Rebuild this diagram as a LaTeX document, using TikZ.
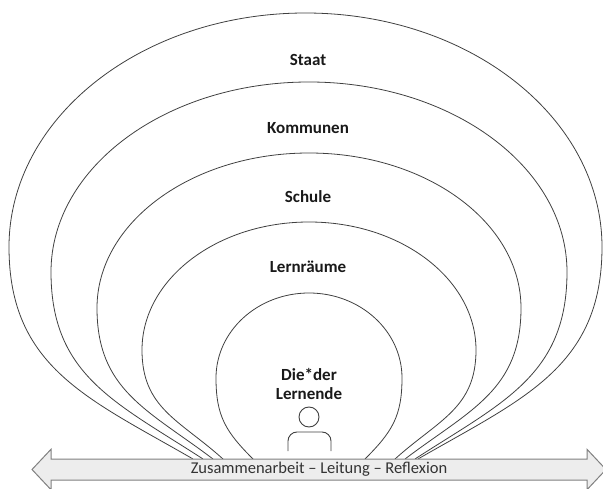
\documentclass[tikz,border=0pt]{standalone}
\usepackage{fontspec}
\setmainfont{Carlito}
\usetikzlibrary{positioning}
\definecolor{ringgray}{rgb}{0.25, 0.25, 0.25}
\definecolor{arrowgray}{rgb}{0.5, 0.5, 0.5}
\definecolor{arrowfill}{rgb}{0.93, 0.93, 0.93}

\begin{document}
\begin{tikzpicture}[x=1pt, y=1pt, ringlabel/.style={font=\fontsize{17}{19}\selectfont\bfseries, text=black!90, align=center}]
		\useasboundingbox (0,0) rectangle (603,488);
		% rings: centre x / widest y / half width / height above widest / half width at bottom / angle at bottom
		\foreach \c/\w/\r/\h/\b/\a in {305.5/241/296.5/234/112.5/150, 309/216/258/190/106/147, 309/180/212/155/96/143, 309/138/167/128/86/138, 309/110/93/85/56/135}{
			\draw [ringgray, line width=0.8pt] (\c-\b,29) to [out=\a, in=-90, looseness=1.1] (\c-\r,\w)
				arc [start angle=180, end angle=0, x radius=\r, y radius=\h]
				to [out=-90, in=180-\a, looseness=1.1] (\c+\b,29);
		}
		% labels:
		\node [ringlabel] (staat) at (308,428) {Staat};
		\node [ringlabel] (kommunen) at (308,360) {Kommunen};
		\node [ringlabel] (schule) at (308,291) {Schule};
		\node [ringlabel] (lernraeume) at (308,221) {Lernräume};
		\node [ringlabel] (lernende) at (309,104) {Die*der\\Lernende};
		% person
		\draw [ringgray, line width=0.9pt] (309,71) circle (10);
		\draw [ringgray, line width=0.9pt, rounded corners=9pt] (288,37) |- (331,56) -- (331,37);
		% double arrow
		\draw [arrowgray, fill=arrowfill, line width=1pt, line join=miter]
			(32,18.5) -- (51,38.7) -- (51,29) -- (587,29) -- (587,38.7) -- (606,18.5)
			-- (587,-1.7) -- (587,8) -- (51,8) -- (51,-1.7) -- cycle;
		\node [font=\fontsize{16.5}{18}\selectfont, text=black!80] (axis) at (319,18.5) {Zusammenarbeit – Leitung – Reflexion};
	\end{tikzpicture}
\end{document}
